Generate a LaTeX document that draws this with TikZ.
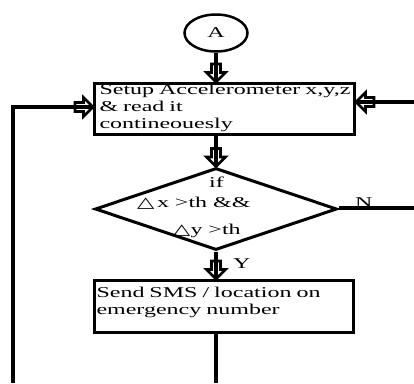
\documentclass[tikz,border=0pt]{standalone}
\usepackage{fontspec}
\setmainfont{Liberation Serif}[FakeStretch=1.6]
\newfontfamily\symfont{DejaVu Sans}[FakeStretch=1.5]
\usetikzlibrary{shapes.geometric,decorations.markings}
\begin{document}
\begin{tikzpicture}[x=1pt,y=-1pt,
  every node/.style={font=\fontsize{15}{17}\selectfont},
  conn/.style={line width=3.5pt},
  hollow/.style={postaction={decorate},decoration={markings,
    mark=at position 1 with {\draw[line width=2.6pt,line join=miter]
      (-18,4.5) -- (-9.5,4.5) -- (-9.5,9.5) -- (0,0) -- (-9.5,-9.5) -- (-9.5,-4.5) -- (-18,-4.5) -- cycle;}}},
  procbox/.style={draw,line width=3pt,anchor=north west,align=left,inner ysep=0pt},
  decbox/.style={draw,diamond,line width=3pt,inner sep=0pt},
  termnode/.style={draw,ellipse,line width=2.5pt,inner sep=0pt},
  txt/.style={anchor=base west,inner sep=0pt}
]
\useasboundingbox (0,0) rectangle (414,383);

\node[termnode,minimum width=63pt,minimum height=37pt] (A) at (216,33) {A};

\node[procbox,minimum width=260pt,minimum height=51pt,text width=250pt,inner xsep=5pt,
      text height=11pt,text depth=40pt] (box1) at (93,82)
  {\mbox{Setup Accelerometer x,y,z}\\ \& read it\\ contineouesly};

\node[decbox,minimum width=242pt,minimum height=82pt] (d) at (216,209) {};
\node[txt] (t1) at (209,187) {if};
\node[txt] (t2) at (137,207) {{\symfont △}\,x >th \&\&};
\node[txt] (t3) at (173,234) {{\symfont △}y >th};

\node[procbox,minimum width=259pt,minimum height=52pt,text width=255pt,inner xsep=2pt,
      text height=17pt,text depth=35pt] (box2) at (93,279)
  {Send SMS / location on\\ emergency number};

\coordinate (lb) at (13,383);
\coordinate (rr) at (414,102);
\coordinate (nr) at (414,208);
\coordinate (bb) at (216,383);

\draw[conn,hollow] (A.south) -- (A.south |- box1.north);
\draw[conn,hollow] (lb) |- (box1.west |- 0,107);
\draw[conn,hollow] (rr) -- (rr -| box1.east);
\draw[conn,hollow] (box1.south -| d.north) -- (d.north);
\draw[conn] (d.east |- 0,208) -- (nr);
\node[txt] (N) at (355,207) {N};
\draw[conn,hollow] (d.south) -- (d.south |- box2.north);
\node[txt] (Y) at (233,268) {Y};
\draw[conn] (box2.south -| bb) -- (bb);
\end{tikzpicture}
\end{document}
